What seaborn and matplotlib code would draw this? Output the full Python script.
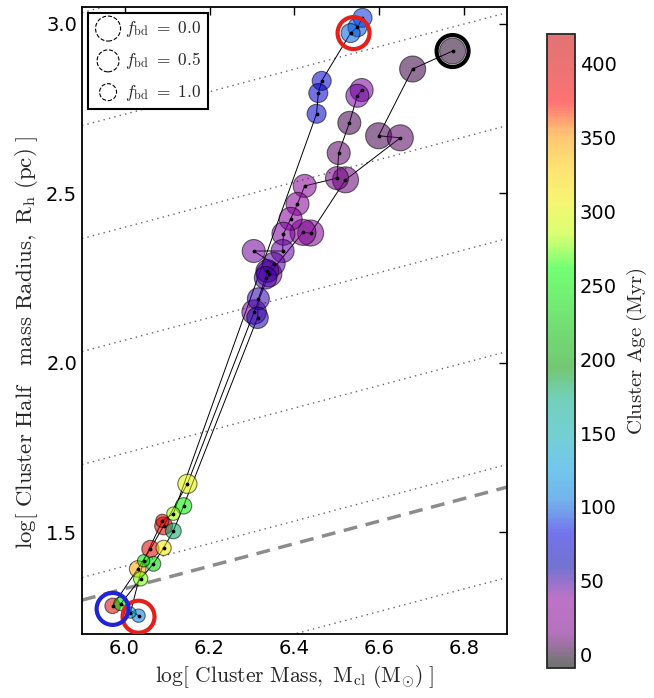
import numpy as np
import pandas as pd
import matplotlib
matplotlib.use("Agg")
import matplotlib.pyplot as plt
from matplotlib.colors import ListedColormap, Normalize
from matplotlib.cm import ScalarMappable
import seaborn as sns

# --- cluster tracks: log mass, log half-mass radius, age (Myr) ---
# f_bd = 0.0
track_a_mass = [6.772, 6.678, 6.598, 6.649, 6.520, 6.438, 6.420, 6.340, 6.305,
                6.148, 6.092, 6.061, 6.031, 5.972]
track_a_rad = [2.920, 2.867, 2.670, 2.664, 2.540, 2.383, 2.385, 2.262, 2.150,
               1.643, 1.519, 1.451, 1.392, 1.283]
track_a_age = [0, 3, 6, 8, 12, 18, 22, 35, 42,
               300, 410, 400, 345, 400]

# f_bd = 0.5
track_b_mass = [6.558, 6.548, 6.529, 6.504, 6.500, 6.424, 6.407, 6.391, 6.374,
                6.372, 6.304, 6.351, 6.336, 6.332, 6.315, 6.313,
                6.139, 6.115, 6.092, 6.068, 6.038, 5.991, 6.033]
track_b_rad = [2.805, 2.788, 2.708, 2.619, 2.545, 2.522, 2.469, 2.425, 2.381,
               2.330, 2.330, 2.292, 2.271, 2.251, 2.189, 2.133,
               1.578, 1.504, 1.454, 1.407, 1.363, 1.289, 1.254]
track_b_age = [40, 42, 5, 9, 14, 30, 34, 38, 40,
               44, 42, 46, 48, 50, 52, 55,
               250, 180, 310, 230, 275, 235, 105]

# f_bd = 1.0
track_c_mass = [6.560, 6.548, 6.532, 6.464, 6.456, 6.452,
                6.115, 6.089, 6.045, 6.014]
track_c_rad = [3.018, 2.990, 2.973, 2.832, 2.796, 2.735,
               1.555, 1.534, 1.416, 1.263]
track_c_age = [90, 95, 100, 75, 72, 70,
               280, 400, 240, 145]

fbd_values = [0.0, 0.5, 1.0]

# highlighted clusters (open rings)
ring_mass = [6.539, 6.772, 6.033, 5.972]
ring_rad = [2.973, 2.920, 1.251, 1.274]
ring_colors = ["#e3201b", "black", "#e3201b", "#2222d6"]

# constant-density reference lines, log(M/R^3)
density_levels = [-3.2, -2.2, -1.2, -0.2, 0.8, 1.8, 2.8]
dashed_level = 2.0

age_min, age_max = -9, 420

# --- build table ---
frames = []
for name, m, r, a, f in [("A", track_a_mass, track_a_rad, track_a_age, fbd_values[0]),
                         ("B", track_b_mass, track_b_rad, track_b_age, fbd_values[1]),
                         ("C", track_c_mass, track_c_rad, track_c_age, fbd_values[2])]:
    frames.append(pd.DataFrame({"logM": m, "logR": r, "age": a, "fbd": f, "track": name}))
df = pd.concat(frames, ignore_index=True)

# marker diameter (px) per f_bd, shrinking for compact clusters
base_diam = {0.0: 26, 0.5: 23, 1.0: 19}
shrink = np.clip(1 - 0.4 * (2.3 - df["logR"]), 0, 1)
diam_pt = df["fbd"].map(base_diam) * shrink * 0.72
df["s"] = diam_pt ** 2

# colormap: nipy_spectral, cut before the grey top end
base = plt.get_cmap("nipy_spectral")
cmap = ListedColormap(base(np.linspace(0, 0.95, 256)))
norm = Normalize(age_min, age_max)
alpha = 0.55
faded = cmap(np.linspace(0, 1, 256))
faded[:, :3] = alpha * faded[:, :3] + (1 - alpha)
cmap_bar = ListedColormap(faded)

sns.set_style("white")
plt.rcParams["font.family"] = ["DejaVu Sans"]
plt.rcParams["mathtext.fontset"] = "cm"

fig = plt.figure(figsize=(6.54, 6.98), dpi=100)
ax = fig.add_axes([0.1254, 0.0917, 0.6498, 0.8983])
cax = fig.add_axes([0.8364, 0.0430, 0.0428, 0.9083])

# reference lines
xx = np.array([5.9, 6.9])
for lev in density_levels:
    ax.plot(xx, (xx - lev) / 3.0, ls=(0, (1, 3)), color="0.4", lw=1.0, zorder=1)
ax.plot(xx, (xx - dashed_level) / 3.0, ls=(0, (4, 2.5)), color="0.55", lw=2.5, zorder=1)

# tracks
sns.lineplot(data=df, x="logM", y="logR", units="track", estimator=None, sort=False,
             color="k", lw=0.7, ax=ax, zorder=2, legend=False)
sns.scatterplot(data=df, x="logM", y="logR", hue="age", palette=cmap, hue_norm=norm,
                s=df["s"].values, alpha=alpha, edgecolor="k", linewidth=0.8,
                ax=ax, legend=False, zorder=3)
ax.scatter(df["logM"], df["logR"], s=3, color="k", zorder=4)

# rings
ax.scatter(ring_mass, ring_rad, s=530, facecolors="none", edgecolors=ring_colors,
           linewidths=3.0, zorder=5)

# legend proxies
handles = []
for f, s in zip(fbd_values, [324, 250, 149]):
    handles.append(ax.scatter([], [], s=s, facecolors="white", edgecolors="k",
                              linewidths=0.8, linestyles="--",
                              label=r"$f_{\rm bd}\ =\ %.1f$" % f))
leg = ax.legend(handles=handles, loc="upper left", fancybox=False, framealpha=1,
                edgecolor="k", fontsize=12.5, borderpad=0.35, labelspacing=0.65,
                handletextpad=0.2, borderaxespad=0.35, scatterpoints=1,
                handlelength=1.6)
leg.get_frame().set_linewidth(1.5)

ax.set_xlim(5.9, 6.9)
ax.set_ylim(1.2, 3.05)
ax.set_xticks([6.0, 6.2, 6.4, 6.6, 6.8])
ax.set_yticks([1.5, 2.0, 2.5, 3.0])
ax.tick_params(direction="in", length=6, width=1, top=True, right=True,
               labelsize=14, colors="k")
for sp in ax.spines.values():
    sp.set_linewidth(1.3)
    sp.set_color("k")
ax.set_xlabel(r"$\mathrm{log[\ Cluster\ Mass,\ M_{cl}\ (M_{\odot})\ ]}$", fontsize=15.5, labelpad=4)
ax.set_ylabel(r"$\mathrm{log[\ Cluster\ Half\ \ \ mass\ Radius,\ R_{h}\ (pc)\ ]}$", fontsize=16.5)
ax.yaxis.set_label_coords(-0.1, 0.465)

# colorbar
sm = ScalarMappable(norm=norm, cmap=cmap_bar)
cb = fig.colorbar(sm, cax=cax)
cb.set_ticks([0, 50, 100, 150, 200, 250, 300, 350, 400])
cb.ax.tick_params(direction="in", length=5, labelsize=14, colors="k")
cb.outline.set_linewidth(1.3)
cb.set_label(r"$\mathrm{Cluster\ Age\ (Myr)}$", fontsize=15, labelpad=6)

fig.savefig("out.png", dpi=100)
